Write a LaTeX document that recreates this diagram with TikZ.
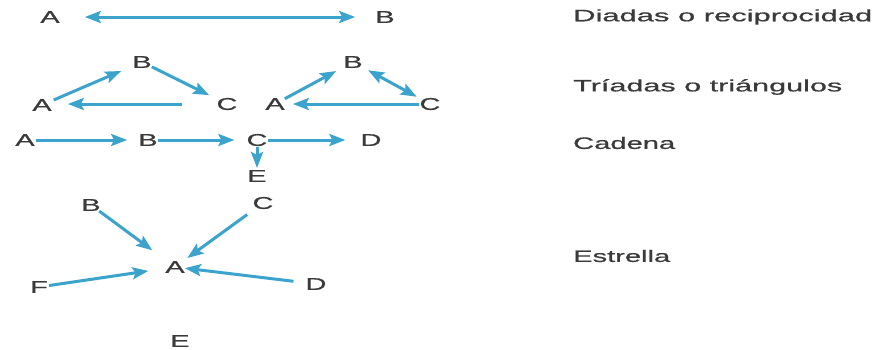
\documentclass[tikz,border=0pt]{standalone}
\usepackage{fontspec}
\setmainfont{Liberation Sans}[FakeBold=0.6]
\usepackage{graphicx}
\usetikzlibrary{arrows.meta}
\definecolor{arrowblue}{HTML}{3BA3CC}
\definecolor{ink}{HTML}{3A3A3A}
\newcommand\wl[1]{\scalebox{1.7}[1]{#1}}
\begin{document}
\begin{tikzpicture}[x=1pt,y=-1pt,
  lt/.style={inner sep=0pt,text=ink,font=\fontsize{17}{17}\selectfont},
  lab/.style={inner sep=0pt,anchor=west,text=ink,font=\fontsize{16.5}{16.5}\selectfont},
  arr/.style={draw=arrowblue,line width=3pt,-{Stealth[length=16pt,width=12pt,inset=3pt]}},
  darr/.style={draw=arrowblue,line width=3pt,{Stealth[length=16pt,width=12pt,inset=3pt]}-{Stealth[length=16pt,width=12pt,inset=3pt]}}]
\useasboundingbox (0,0) rectangle (880,349);
% Diadas
\node[lt] (a1) at (50,17) {\wl{A}};
\node[lt] (b1) at (385,17) {\wl{B}};
\draw[darr,shorten <=25pt,shorten >=20pt] (a1) -- (b1);
% Triada 1
\node[lt] (a2) at (42,105) {\wl{A}};
\node[lt] (b2) at (142,62) {\wl{B}};
\node[lt] (c2) at (227,104) {\wl{C}};
\draw[arr,shorten <=2pt,shorten >=12pt] (a2) -- (b2);
\draw[arr,shorten <=0pt,shorten >=8pt] (b2) -- (c2);
\draw[arr,shorten <=34pt,shorten >=16pt] (c2.west) -- (c2.west -| a2.east);
% Triada 2
\node[lt] (a3) at (275,104) {\wl{A}};
\node[lt] (b3) at (353,62) {\wl{B}};
\node[lt] (c3) at (430,104) {\wl{C}};
\draw[arr,shorten <=0pt,shorten >=8pt] (a3) -- (b3);
\draw[darr,shorten <=6pt,shorten >=3pt] (b3) -- (c3);
\draw[arr,shorten <=0pt,shorten >=8pt] (c3) -- (a3);
% Cadena
\node[lt] (a4) at (25,140) {\wl{A}};
\node[lt] (b4) at (148,140) {\wl{B}};
\node[lt] (c4) at (257,140) {\wl{C}};
\node[lt] (d4) at (371,140) {\wl{D}};
\node[lt] (e4) at (257,176) {\wl{E}};
\draw[arr,shorten <=1pt,shorten >=11pt] (a4) -- (b4);
\draw[arr,shorten <=0pt,shorten >=12pt] (b4) -- (c4);
\draw[arr,shorten <=0pt,shorten >=15pt] (c4) -- (d4);
\draw[arr,shorten <=1pt,shorten >=2pt] (c4) -- (e4);
% Estrella
\node[lt] (a5) at (175,267) {\wl{A}};
\node[lt] (b5) at (91,205) {\wl{B}};
\node[lt] (c5) at (263,203) {\wl{C}};
\node[lt] (d5) at (316,284) {\wl{D}};
\node[lt] (f5) at (39,287) {\wl{F}};
\node[lt] (e5) at (180,341) {\wl{E}};
\draw[arr,shorten <=0pt,shorten >=18pt] (b5) -- (a5);
\draw[arr,shorten <=9pt,shorten >=5pt] (c5) -- (a5);
\draw[arr,shorten <=1pt,shorten >=17pt] (f5) -- (a5);
\draw[arr,shorten <=12pt,shorten >=0pt] (d5) -- (a5);
% Labels
\node[lab] (l1) at (573,17) {\resizebox{299pt}{\height}{Diadas o reciprocidad}};
\node[lab] (l2) at (573,87) {\resizebox{269pt}{\height}{Tríadas o triángulos}};
\node[lab] (l3) at (573,143) {\resizebox{102pt}{\height}{Cadena}};
\node[lab] (l4) at (573,256) {\resizebox{97pt}{\height}{Estrella}};
\end{tikzpicture}
\end{document}
